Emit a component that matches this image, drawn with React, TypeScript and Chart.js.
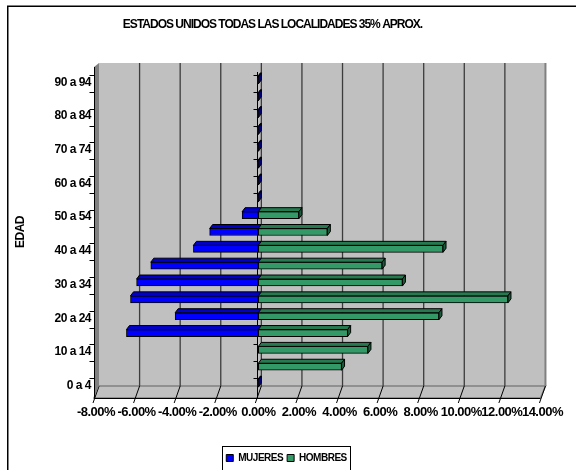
import React, { useEffect, useRef } from 'react';
import { Chart, registerables } from 'chart.js';

Chart.register(...registerables);

const chartTitle = 'ESTADOS UNIDOS TODAS LAS LOCALIDADES 35% APROX.';
const axisTitle = 'EDAD';
const categories = ['0 a 4', '5 a 9', '10 a 14', '15 a 19', '20 a 24', '25 a 29', '30 a 34', '35 a 39', '40 a 44', '45 a 49', '50 a 54', '55 a 59', '60 a 64', '65 a 69', '70 a 74', '75 a 79', '80 a 84', '85 a 89', '90 a 94'];
const seriesNames = ['MUJERES', 'HOMBRES'];
const mujeres = [-0.05, 0, 0, -6.5, -4.1, -6.3, -6.0, -5.3, -3.2, -2.4, -0.8, -0.05, -0.05, -0.05, -0.05, -0.05, -0.05, -0.05, -0.05];
const hombres = [0, 4.1, 5.4, 4.4, 8.9, 12.3, 7.1, 6.1, 9.1, 3.4, 2.0, 0, 0, 0, 0, 0, 0, 0, 0];
const xMin = -8;
const xMax = 14;
const xStep = 2;

const FONT = '"Liberation Sans", Arial, Helvetica, sans-serif';
const BLUE = '#0000FF';
const BLUE_TOP = '#0000C8';
const BLUE_END = '#000090';
const GREEN = '#339966';
const GREEN_TOP = '#267A50';
const GREEN_END = '#1C5C3C';
const DX = 3;
const DY = 4;

function line(ctx: CanvasRenderingContext2D, x1: number, y1: number, x2: number, y2: number) {
  ctx.beginPath();
  ctx.moveTo(x1, y1);
  ctx.lineTo(x2, y2);
  ctx.stroke();
}

function poly(ctx: CanvasRenderingContext2D, pts: number[][], fill: string) {
  ctx.beginPath();
  ctx.moveTo(pts[0][0], pts[0][1]);
  for (let i = 1; i < pts.length; i++) ctx.lineTo(pts[i][0], pts[i][1]);
  ctx.closePath();
  ctx.fillStyle = fill;
  ctx.fill();
  ctx.strokeStyle = '#000';
  ctx.lineWidth = 1;
  ctx.stroke();
}

const deco = {
  id: 'deco3d',
  beforeUpdate(chart: any) {
    chart.ctx.letterSpacing = '-0.5px';
  },
  beforeDraw(chart: any) {
    chart.ctx.letterSpacing = '-0.5px';
  },
  beforeDatasetsDraw(chart: any) {
    const { ctx, chartArea, scales } = chart;
    const x = scales.x;
    const T = chartArea.top;
    const B = chartArea.bottom;
    const bx = (v: number) => x.getPixelForValue(v) + 3;
    const fx = (v: number) => x.getPixelForValue(v) - 2;
    const wallTop = T - 9;
    const wallBot = B - 6;
    const front = B + 6;
    ctx.save();
    // back wall
    ctx.fillStyle = '#C0C0C0';
    ctx.fillRect(bx(xMin), wallTop, bx(xMax) - bx(xMin), wallBot - wallTop);
    // floor
    ctx.beginPath();
    ctx.moveTo(bx(xMin), wallBot);
    ctx.lineTo(bx(xMax), wallBot);
    ctx.lineTo(fx(xMax), front);
    ctx.lineTo(fx(xMin), front);
    ctx.closePath();
    ctx.fillStyle = '#C0C0C0';
    ctx.fill();
    ctx.strokeStyle = '#808080';
    ctx.lineWidth = 1.5;
    ctx.stroke();
    // gridlines on back wall
    ctx.strokeStyle = '#3c3c3c';
    ctx.lineWidth = 1.3;
    for (let v = xMin + xStep; v < xMax; v += xStep) {
      line(ctx, bx(v), wallTop, bx(v), wallBot);
    }
    // wall right edge
    ctx.strokeStyle = '#808080';
    ctx.lineWidth = 2;
    line(ctx, bx(xMax), wallTop, bx(xMax), wallBot);
    // floor depth lines + ticks
    ctx.strokeStyle = '#000';
    ctx.lineWidth = 1;
    for (let v = xMin; v <= xMax; v += xStep) {
      line(ctx, bx(v), wallBot, fx(v) - 1, front + 5);
    }
    // floor front edge
    line(ctx, fx(xMin), front + 0.5, fx(xMax), front + 0.5);
    // left wall
    ctx.beginPath();
    ctx.moveTo(fx(xMin), wallTop + 4);
    ctx.lineTo(bx(xMin), wallTop);
    ctx.lineTo(bx(xMin), wallBot);
    ctx.lineTo(fx(xMin), front);
    ctx.closePath();
    ctx.fillStyle = '#808080';
    ctx.fill();
    ctx.strokeStyle = '#000';
    ctx.lineWidth = 1;
    const ax = Math.round(fx(xMin)) + 0.5;
    line(ctx, ax, wallTop + 4, ax, front);
    // category ticks on left axis and zero axis
    const h = (B - T) / categories.length;
    const zx = Math.round(x.getPixelForValue(0) - 1) + 0.5;
    line(ctx, zx, T, zx, front);
    for (let k = 0; k < categories.length; k++) {
      const yy = Math.round(T + k * h + 3) + 0.5;
      line(ctx, ax - 5, yy, ax, yy);
      line(ctx, zx - 4, yy, zx, yy);
    }
    ctx.restore();
  },
  afterDatasetsDraw(chart: any) {
    const { ctx } = chart;
    ctx.save();
    [0, 1].forEach((d) => {
      const meta = chart.getDatasetMeta(d);
      meta.data.forEach((el: any, i: number) => {
        const val = d === 0 ? mujeres[i] : hombres[i];
        if (val === 0) return;
        const { x: px, y: py, base, height } = el.getProps(['x', 'y', 'base', 'height'], true);
        const l = Math.min(px, base);
        const r = Math.max(px, base);
        const t = py - height / 2;
        const b = py + height / 2;
        poly(ctx, [[l, t], [r, t], [r + DX, t - DY], [l + DX, t - DY]], d === 0 ? BLUE_TOP : GREEN_TOP);
        const showEnd = d === 1 ? true : hombres[i] === 0;
        if (showEnd) {
          poly(ctx, [[r, t], [r + DX, t - DY], [r + DX, b - DY], [r, b]], d === 0 ? BLUE_END : GREEN_END);
        }
      });
    });
    ctx.restore();
  },
  afterDraw(chart: any) {
    const { ctx } = chart;
    ctx.save();
    // outer frame
    ctx.strokeStyle = '#000';
    ctx.lineWidth = 1.5;
    ctx.beginPath();
    ctx.moveTo(7.75, 470);
    ctx.lineTo(7.75, 6.25);
    ctx.lineTo(576, 6.25);
    ctx.stroke();
    // title
    ctx.letterSpacing = '-1px';
    ctx.font = `bold 12px ${FONT}`;
    ctx.fillStyle = '#000';
    ctx.textAlign = 'center';
    ctx.textBaseline = 'middle';
    ctx.fillText(chartTitle, 272.5, 25);
    // legend border
    const boxes = chart.legend && chart.legend.legendHitBoxes;
    if (boxes && boxes.length) {
      let minL = Infinity;
      let maxR = -Infinity;
      const top = boxes[0].top;
      const hh = boxes[0].height;
      boxes.forEach((bb: any) => {
        minL = Math.min(minL, bb.left);
        maxR = Math.max(maxR, bb.left + bb.width);
      });
      ctx.lineWidth = 1;
      ctx.strokeStyle = '#000';
      ctx.strokeRect(Math.round(minL - 4) + 0.5, Math.round(top - 7) + 0.5, Math.round(maxR - minL + 8), Math.round(hh + 14));
    }
    ctx.restore();
  },
};

export default function App() {
  const ref = useRef<HTMLCanvasElement>(null);
  useEffect(() => {
    const canvas = ref.current;
    if (!canvas) return;
    const tickFont = { family: FONT, size: 12, weight: 'bold' as const };
    const xTickFont = { family: FONT, size: 13, weight: 'bold' as const };
    const chart = new Chart(canvas, {
      type: 'bar',
      data: {
        labels: categories,
        datasets: [
          {
            label: seriesNames[0],
            data: mujeres,
            backgroundColor: BLUE,
            borderColor: '#000',
            borderWidth: 1,
            borderSkipped: false,
            barThickness: 7,
          },
          {
            label: seriesNames[1],
            data: hombres,
            backgroundColor: GREEN,
            borderColor: '#000',
            borderWidth: 1,
            borderSkipped: false,
            barThickness: 7,
          },
        ],
      },
      options: {
        indexAxis: 'y',
        responsive: false,
        animation: false,
        devicePixelRatio: 1,
        layout: { padding: { top: 72, left: 22, right: 25, bottom: -3 } },
        plugins: {
          title: { display: false },
          tooltip: { enabled: false },
          legend: {
            position: 'bottom',
            labels: {
              boxWidth: 7,
              boxHeight: 7,
              padding: 4,
              color: '#000',
              font: { family: FONT, size: 10, weight: 'bold' },
            },
          },
        },
        scales: {
          x: {
            type: 'linear',
            min: xMin,
            max: xMax,
            stacked: true,
            grid: { display: false, drawTicks: false },
            border: { display: false },
            ticks: {
              stepSize: xStep,
              autoSkip: false,
              maxRotation: 0,
              minRotation: 0,
              padding: 13,
              color: '#000',
              font: xTickFont,
              callback: (v: any) => Number(v).toFixed(2) + '%',
            },
            afterFit: (s: any) => {
              s.height = 57;
            },
          },
          y: {
            type: 'category',
            reverse: true,
            stacked: true,
            grid: { display: false, drawTicks: false },
            border: { display: false },
            ticks: {
              autoSkip: false,
              padding: 5,
              labelOffset: 2,
              color: '#000',
              font: tickFont,
              callback: (_v: any, i: number) => (i % 2 === 0 ? categories[i] : ''),
            },
            title: {
              display: true,
              text: axisTitle,
              color: '#000',
              font: tickFont,
              padding: { top: -9, bottom: 0 },
            },
            afterFit: (s: any) => {
              s.width = 74;
            },
          },
        },
      } as any,
      plugins: [deco],
    });
    return () => chart.destroy();
  }, []);
  return (
    <div style={{ position: 'absolute', left: 0, top: 0, width: 576, height: 470 }}>
      <canvas ref={ref} width={576} height={470} style={{ display: 'block', width: 576, height: 470 }} />
    </div>
  );
}
